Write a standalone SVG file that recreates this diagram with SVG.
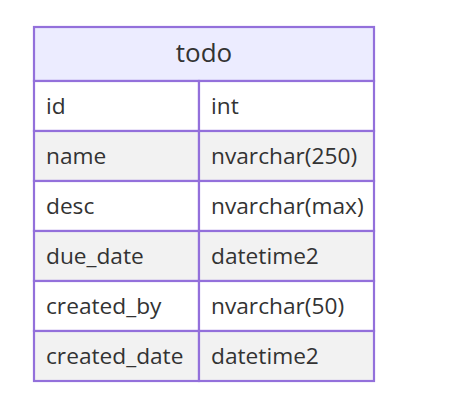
<svg xmlns="http://www.w3.org/2000/svg" width="474" height="401" viewBox="0 0 474 401">
<style>
.t{font-family:"Open Sans","Noto Sans","DejaVu Sans",sans-serif;font-size:22.7px;fill:#333;dominant-baseline:central}
.b{stroke:#9370DB;stroke-width:2.2}
</style>
<rect width="474" height="401" fill="#fff"/>
<g id="todo">
<rect class="b" x="34" y="27" width="340" height="54" fill="#ECECFF"/>
<rect class="b" x="34" y="81" width="165" height="50" fill="#fff"/>
<rect class="b" x="199" y="81" width="175" height="50" fill="#fff"/>
<rect class="b" x="34" y="131" width="165" height="50" fill="#f2f2f2"/>
<rect class="b" x="199" y="131" width="175" height="50" fill="#f2f2f2"/>
<rect class="b" x="34" y="181" width="165" height="50" fill="#fff"/>
<rect class="b" x="199" y="181" width="175" height="50" fill="#fff"/>
<rect class="b" x="34" y="231" width="165" height="50" fill="#f2f2f2"/>
<rect class="b" x="199" y="231" width="175" height="50" fill="#f2f2f2"/>
<rect class="b" x="34" y="281" width="165" height="50" fill="#fff"/>
<rect class="b" x="199" y="281" width="175" height="50" fill="#fff"/>
<rect class="b" x="34" y="331" width="165" height="50" fill="#f2f2f2"/>
<rect class="b" x="199" y="331" width="175" height="50" fill="#f2f2f2"/>
<text class="t" x="204" y="52" text-anchor="middle" style="font-size:26px">todo</text>
<text class="t" x="46" y="105">id</text><text class="t" x="211" y="105">int</text>
<text class="t" x="46" y="155">name</text><text class="t" x="211" y="155">nvarchar(250)</text>
<text class="t" x="46" y="205">desc</text><text class="t" x="211" y="205">nvarchar(max)</text>
<text class="t" x="46" y="255">due_date</text><text class="t" x="211" y="255">datetime2</text>
<text class="t" x="46" y="305">created_by</text><text class="t" x="211" y="305">nvarchar(50)</text>
<text class="t" x="46" y="355">created_date</text><text class="t" x="211" y="355">datetime2</text>
</g>
<g id="connectors"/>
</svg>
